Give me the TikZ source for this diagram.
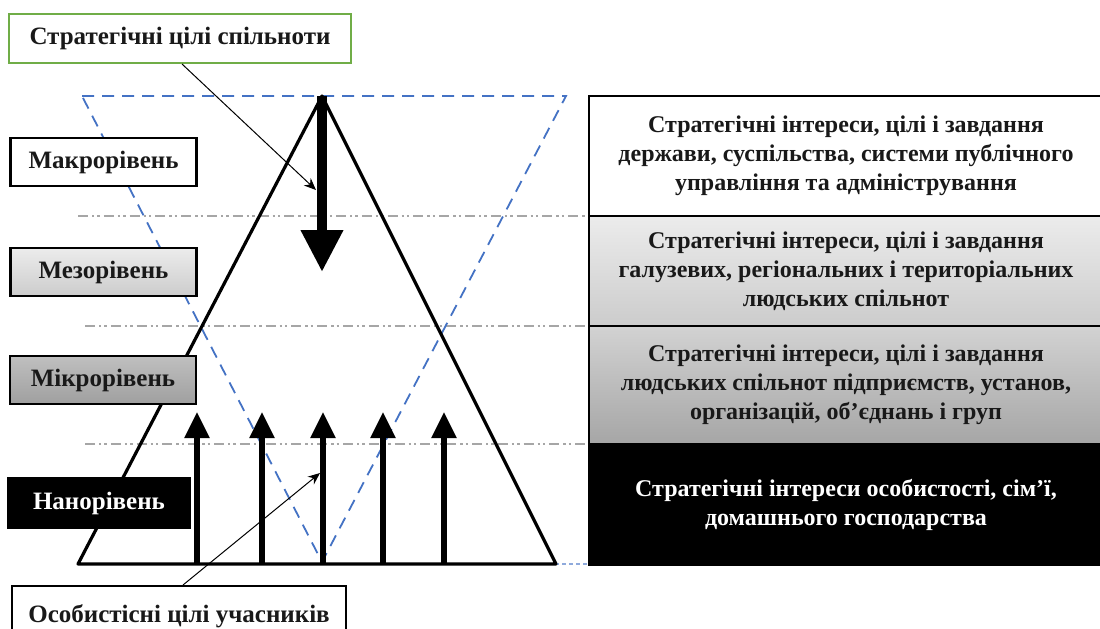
\documentclass[tikz,border=0pt]{standalone}
\usepackage{fontspec}
\setmainfont{Liberation Serif}
\usetikzlibrary{arrows.meta}
\definecolor{dblue}{RGB}{68,114,196}
\definecolor{txt}{RGB}{25,25,25}
\definecolor{green1}{RGB}{112,173,71}
\begin{document}
\begin{tikzpicture}[x=0.5pt,y=-0.5pt,
  lvl/.style={draw=black,line width=1.2pt,minimum width=93pt,minimum height=24pt,inner sep=0pt,font=\bfseries\fontsize{12.5}{14}\selectfont,text=txt},
  rbox/.style={draw=black,line width=1pt,minimum width=257pt,inner sep=0pt,align=center,font=\bfseries\fontsize{12}{14.6}\selectfont,text=txt,anchor=north west},
  callout/.style={draw=black,line width=0.5pt,-{Stealth[length=6pt,width=5pt]}},
  levelline/.style={draw=gray!70,line width=1pt,dash pattern=on 5pt off 2pt on 1.2pt off 1.5pt on 1.2pt off 2pt},
  uparrow/.style={draw=black,line width=2.6pt,-{Triangle[length=13pt,width=12pt]}}
]
\useasboundingbox (0,0) rectangle (1100,628);
\fill[white] (0,0) rectangle (1100,628);
% level separators
\draw[levelline] (78,216) -- (586,216);
\draw[levelline] (85,326) -- (586,326);
\draw[levelline] (85,444) -- (586,444);
\draw[dblue!60,line width=1pt,dash pattern=on 2pt off 1.5pt] (555,564) -- (588,564);
% inverted dashed triangle
\draw[dblue,line width=0.9pt,dash pattern=on 6pt off 4pt] (82,96) -- (566,96) -- (322,562) -- cycle;
% main triangle
\coordinate (apex) at (322,96);
\coordinate (bl) at (78,564);
\coordinate (br) at (556,564);
\draw[black,line width=1.6pt,line join=round] (apex) -- (bl) -- (br) -- cycle;
% big down arrow
\coordinate (downtip) at (322,272);
\draw[black,line width=5pt,-{Triangle[length=21pt,width=20pt]}] (apex) -- (downtip);
% up arrows
\foreach \i/\x in {1/197,2/262,3/323,4/383,5/444}{
  \coordinate (ub\i) at (\x,564);
  \coordinate (ut\i) at (\x,412);
  \draw[uparrow] (ub\i) -- (ut\i);
}
% left level boxes
\node[lvl,fill=white] (macro) at (103.5,162) {Макрорівень};
\node[lvl,top color=gray!15,bottom color=gray!40] (meso) at (103.5,272) {Мезорівень};
\node[lvl,top color=gray!50,bottom color=gray!75] (micro) at (103,380) {Мікрорівень};
\node[lvl,fill=black,text=white,minimum width=91pt,minimum height=25pt] (nano) at (99,503) {Нанорівень};
% right boxes
\node[rbox,fill=white,minimum height=60pt] (r1) at (588,95) {Стратегічні інтереси, цілі і завдання\\держави, суспільства, системи публічного\\управління та адміністрування};
\node[rbox,top color=gray!15,bottom color=gray!40,minimum height=55pt] (r2) at (588,215) {Стратегічні інтереси, цілі і завдання\\галузевих, регіональних і територіальних\\людських спільнот};
\node[rbox,top color=gray!35,bottom color=gray!70,minimum height=59pt] (r3) at (588,325) {Стратегічні інтереси, цілі і завдання\\людських спільнот підприємств, установ,\\організацій, об’єднань і груп};
\node[rbox,fill=black,text=white,minimum height=60pt] (r4) at (588,444) {Стратегічні інтереси особистості, сім’ї,\\домашнього господарства};
% callout boxes
\node[draw=green1,line width=1pt,fill=white,minimum width=171pt,minimum height=24.5pt,inner sep=0pt,font=\bfseries\fontsize{12.5}{14}\selectfont,text=txt] (goal) at (180,38.5) {Стратегічні цілі спільноти};
\node[draw=black,line width=1pt,fill=white,minimum width=167pt,minimum height=30pt,inner sep=0pt,font=\bfseries\fontsize{12.5}{14}\selectfont,text=txt,anchor=north west] (pers) at (11,585) {Особистісні цілі учасників};
\coordinate (g1) at (316,190);
\coordinate (p1) at (320,473);
\draw[callout] (goal.south) ++(2,0) coordinate (gs) (gs) -- (g1);
\draw[callout] (pers.north) ++(4,0) coordinate (ps) (ps) -- (p1);
\end{tikzpicture}
\end{document}
